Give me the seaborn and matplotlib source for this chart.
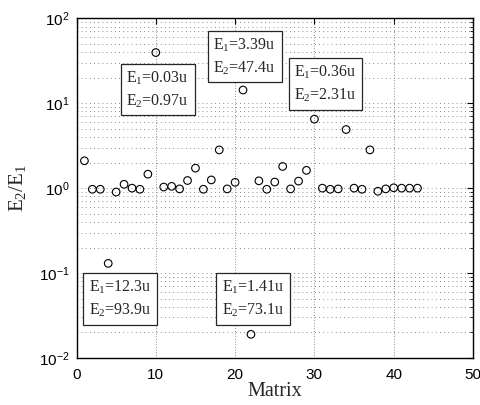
import numpy as np
import pandas as pd
import matplotlib
matplotlib.use("Agg")
import matplotlib.pyplot as plt
import seaborn as sns
from matplotlib.ticker import LogLocator, NullLocator

# ---- data ----
matrix_ids = list(range(1, 44))
ratios = [2.10, 0.97, 0.97, 0.13, 0.90, 1.11, 1.00, 0.97, 1.46, 39.5,
          1.03, 1.05, 0.98, 1.23, 1.72, 0.97, 1.25, 2.82, 0.98, 1.17,
          14.3, 0.019, 1.22, 0.97, 1.18, 1.80, 0.98, 1.21, 1.62, 6.5,
          1.00, 0.97, 0.98, 4.9, 1.00, 0.97, 2.82, 0.92, 0.98, 1.01,
          1.00, 1.00, 1.00]

note_texts = ["$\\mathrm{E_1}$=0.03u\n$\\mathrm{E_2}$=0.97u",
              "$\\mathrm{E_1}$=3.39u\n$\\mathrm{E_2}$=47.4u",
              "$\\mathrm{E_1}$=0.36u\n$\\mathrm{E_2}$=2.31u",
              "$\\mathrm{E_1}$=12.3u\n$\\mathrm{E_2}$=93.9u",
              "$\\mathrm{E_1}$=1.41u\n$\\mathrm{E_2}$=73.1u"]
note_x = [10.24, 21.2, 31.4, 5.53, 22.26]
note_y = [14.5, 35.5, 16.9, 0.0499, 0.0499]

x_ticks = [0, 10, 20, 30, 40, 50]

df = pd.DataFrame({"Matrix": matrix_ids, "ratio": ratios})

# ---- style ----
sns.set_style("white")
plt.rcParams["font.family"] = ["Liberation Sans", "DejaVu Sans"]
plt.rcParams["mathtext.fontset"] = "custom"
plt.rcParams["mathtext.rm"] = "Liberation Serif"
plt.rcParams["mathtext.it"] = "Liberation Serif:italic"
plt.rcParams["mathtext.bf"] = "Liberation Serif:bold"

fig = plt.figure(figsize=(4.81, 4.05), dpi=100)
ax = fig.add_axes([76.5 / 481, 1 - 358 / 405, (473 - 76.5) / 481, (358 - 18.3) / 405])

sns.scatterplot(data=df, x="Matrix", y="ratio", ax=ax, marker="o", s=30,
                color="black", linewidth=0.8, zorder=3, legend=False)
coll = ax.collections[0]
coll.set_facecolor("none")
coll.set_edgecolor("black")

ax.set_yscale("log")
ax.set_xlim(0, 50)
ax.set_ylim(1e-2, 1e2)
ax.set_xticks(x_ticks)
ax.xaxis.set_minor_locator(NullLocator())
ax.yaxis.set_major_locator(LogLocator(base=10, numticks=10))
ax.yaxis.set_minor_locator(LogLocator(base=10, subs=np.arange(2, 10), numticks=20))

ax.grid(True, which="major", axis="x", color="0.4", linestyle=(0, (1, 2.2)), linewidth=0.6)
ax.grid(True, which="both", axis="y", color="0.4", linestyle=(0, (1, 4)), linewidth=0.6)
ax.set_axisbelow(True)

for sp in ax.spines.values():
    sp.set_color("black")
    sp.set_linewidth(1.0)

ax.tick_params(which="both", direction="in", top=True, right=True, colors="black",
               labelsize=11)
ax.tick_params(which="major", length=4, width=0.8)
ax.tick_params(which="minor", length=2.2, width=0.6)
ax.tick_params(axis="x", which="major", pad=7)
ax.tick_params(axis="y", which="major", pad=5)

ax.set_xlabel("Matrix", family="Liberation Serif", fontsize=14.5, labelpad=0)
ax.set_ylabel("$\\mathrm{E_2/E_1}$", fontsize=15, labelpad=8)

for t, xx, yy in zip(note_texts, note_x, note_y):
    ax.text(xx, yy, t, ha="center", va="center", multialignment="left",
            fontsize=11.5, family="Liberation Serif", linespacing=1.45, zorder=4,
            bbox=dict(boxstyle="square,pad=0.35", fc="white", ec="0.15", lw=0.9))

fig.savefig("out.png", dpi=100)
